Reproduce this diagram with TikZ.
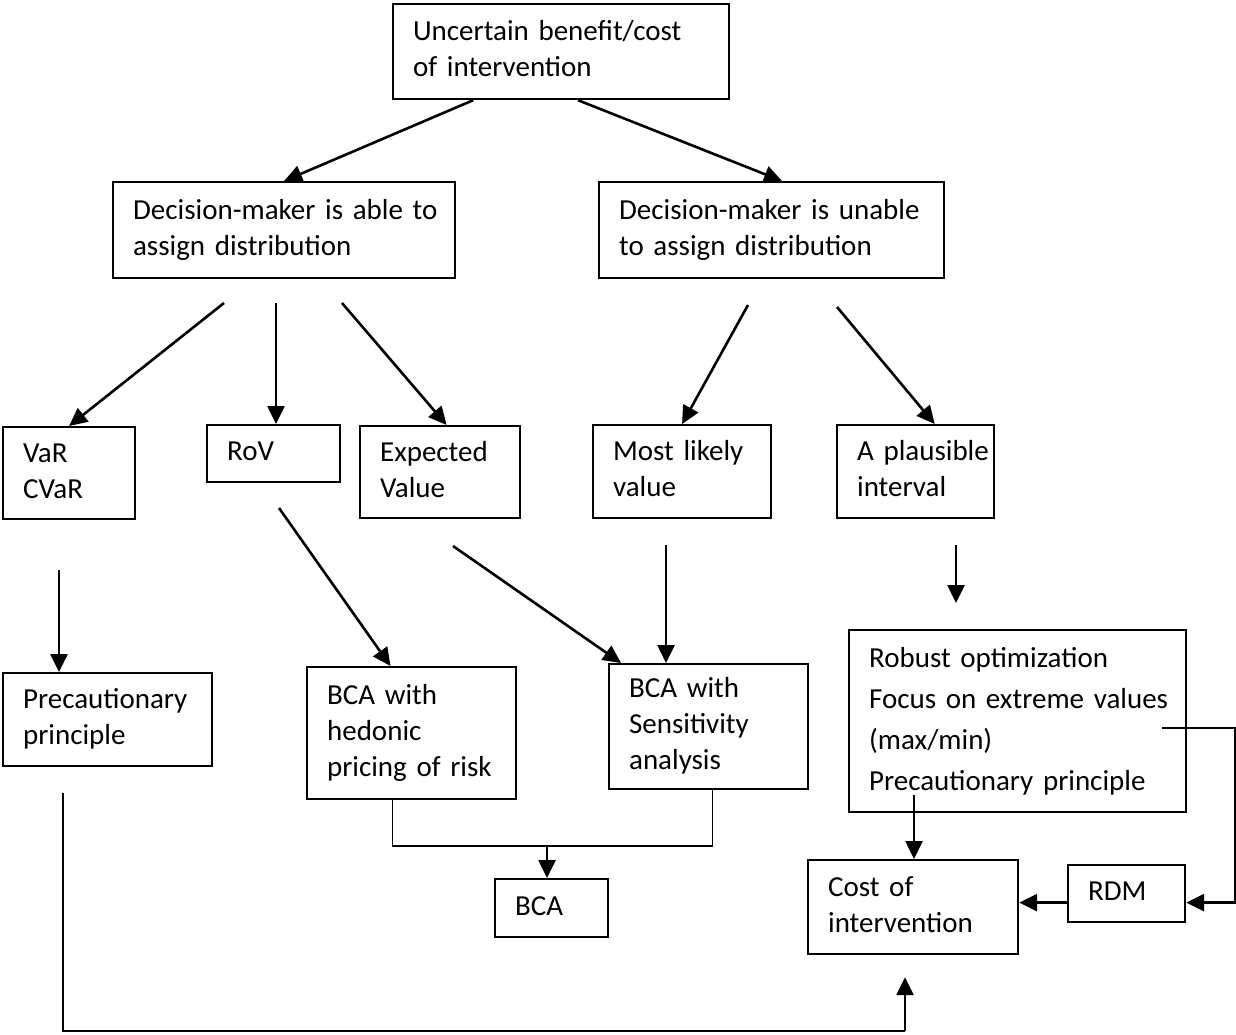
\documentclass[tikz,border=0pt]{standalone}
\usepackage{fontspec}
\setmainfont{Carlito}
\usetikzlibrary{calc, arrows.meta}

\newcommand{\blockfont}{\fontsize{14.5pt}{18pt}\selectfont}
\newcommand{\blocktext}[1]{\begin{tabular}{@{}l@{}}#1\end{tabular}}
\tikzset{
    block/.style = {
        draw, rectangle, line width=1.1pt, anchor=north west,
        inner xsep=10pt, inner ysep=0pt, font=\blockfont
    },
    boxsize/.style 2 args = {
        minimum width=#1, text width=#1-20pt, minimum height=#2
    },
    flow/.style = {
        line width=1.3pt, -{Triangle[length=9pt, width=8.5pt]}
    },
    link/.style = {line width=0.6pt},
}

\begin{document}
\begin{tikzpicture}[x=0.5pt, y=-0.5pt]
    \useasboundingbox (0,0) rectangle (1236,1034);

    % Place the blocks
    \node[block, boxsize={168pt}{47.5pt}] (top) at (392,3) {\blocktext{Uncertain benefit/cost\\of intervention}};
    \node[block, boxsize={171pt}{48pt}] (dmA) at (112,181) {\blocktext{Decision-maker is able to\\assign distribution}};
    \node[block, boxsize={172.5pt}{48pt}] (dmU) at (598,181) {\blocktext{Decision-maker is unable\\to assign distribution}};

    \node[block, boxsize={66pt}{46pt}] (var) at (2,426) {\blocktext{VaR\\CVaR}};
    \node[block, boxsize={66.5pt}{28.5pt}] (rov) at (206,424) {\blocktext{RoV}};
    \node[block, boxsize={80pt}{46pt}] (ev) at (359,425) {\blocktext{Expected\\Value}};
    \node[block, boxsize={89pt}{46.5pt}] (mlv) at (592,424) {\blocktext{Most likely\\value}};
    \node[block, boxsize={78.5pt}{46.5pt}] (pint) at (836,424) {\blocktext{A plausible\\interval}};

    \node[block, boxsize={104.5pt}{46.5pt}] (prec) at (2,672) {\blocktext{Precautionary\\principle}};
    \node[block, boxsize={104.5pt}{66pt}] (hed) at (306,666) {\blocktext{BCA with\\hedonic\\pricing of risk}};
    \node[block, boxsize={99.5pt}{62.5pt}] (sens) at (608,663) {\blocktext{BCA with\\Sensitivity\\analysis}};
    \node[block, boxsize={168.5pt}{91pt}, font=\fontsize{14.5pt}{20.5pt}\selectfont] (rob) at (848,629)
        {\blocktext{Robust optimization\\Focus on extreme values\\(max/min)\\Precautionary principle}};

    \node[block, boxsize={56.5pt}{29pt}] (bca) at (494,878) {\blocktext{BCA}};
    \node[block, boxsize={105pt}{47pt}] (cost) at (807,859) {\blocktext{Cost of\\intervention}};
    \node[block, boxsize={58.5pt}{28.5pt}] (rdm) at (1067,864) {\blocktext{RDM}};

    % free ends of the arrows
    \coordinate (vA) at (224,303);
    \coordinate (rA) at (276,303);
    \coordinate (eA) at (342,303);
    \coordinate (mU) at (748,305);
    \coordinate (pU) at (837,307);
    \coordinate (vB) at (59,570);
    \coordinate (rB) at (279,508);
    \coordinate (eB) at (453,546);
    \coordinate (mB) at (666,545);
    \coordinate (pB) at (956,545);
    \coordinate (bcaJ) at (547,846);
    \coordinate (rC) at (914,795);
    \coordinate (rD) at (1162,728);
    \coordinate (pC) at (63,793);
    \coordinate (cJ) at (905,1031);

    % Connect the blocks
    \draw[flow] ($(top.south west)!0.24!(top.south east)$) -- (dmA.north);
    \draw[flow] ($(top.south west)!0.55!(top.south east)$) -- ($(dmU.north west)!0.53!(dmU.north east)$);

    \draw[flow] (vA) -- (var.north);
    \draw[flow] (rA) -- (rA |- rov.north);
    \draw[flow] (eA) -- ($(ev.north west)!0.54!(ev.north east)$);
    \draw[flow] (mU) -- (mlv.north);
    \draw[flow] (pU) -- ($(pint.north west)!0.62!(pint.north east)$);

    \draw[flow] (vB) -- (vB |- prec.north);
    \draw[flow] (rB) -- ($(hed.north west)!0.4!(hed.north east)$);
    \draw[flow] (eB) -- ($(sens.north west)!0.065!(sens.north east)$);
    \draw[flow] (mB) -- (mB |- sens.north);
    \draw[flow, shorten >=13pt] (pB) -- (pB |- rob.north);

    \draw[link] ($(hed.south west)!0.41!(hed.south east)$) |- (bcaJ) -| ($(sens.south west)!0.52!(sens.south east)$);
    \draw[flow] (bcaJ) -- (bcaJ |- bca.north);

    \draw[flow] (rC) -- (rC |- cost.north);
    \draw[flow] (rD) -- ++(73,0) |- ([yshift=-4.5pt]rdm.east);
    \draw[flow] ([yshift=-4.5pt]rdm.west) -- ([yshift=-4.5pt]rdm.west -| cost.east);

    \draw[link] (pC) |- (cJ);
    \draw[flow, shorten >=11pt] (cJ) -- (cJ |- cost.south);
\end{tikzpicture}
\end{document}
